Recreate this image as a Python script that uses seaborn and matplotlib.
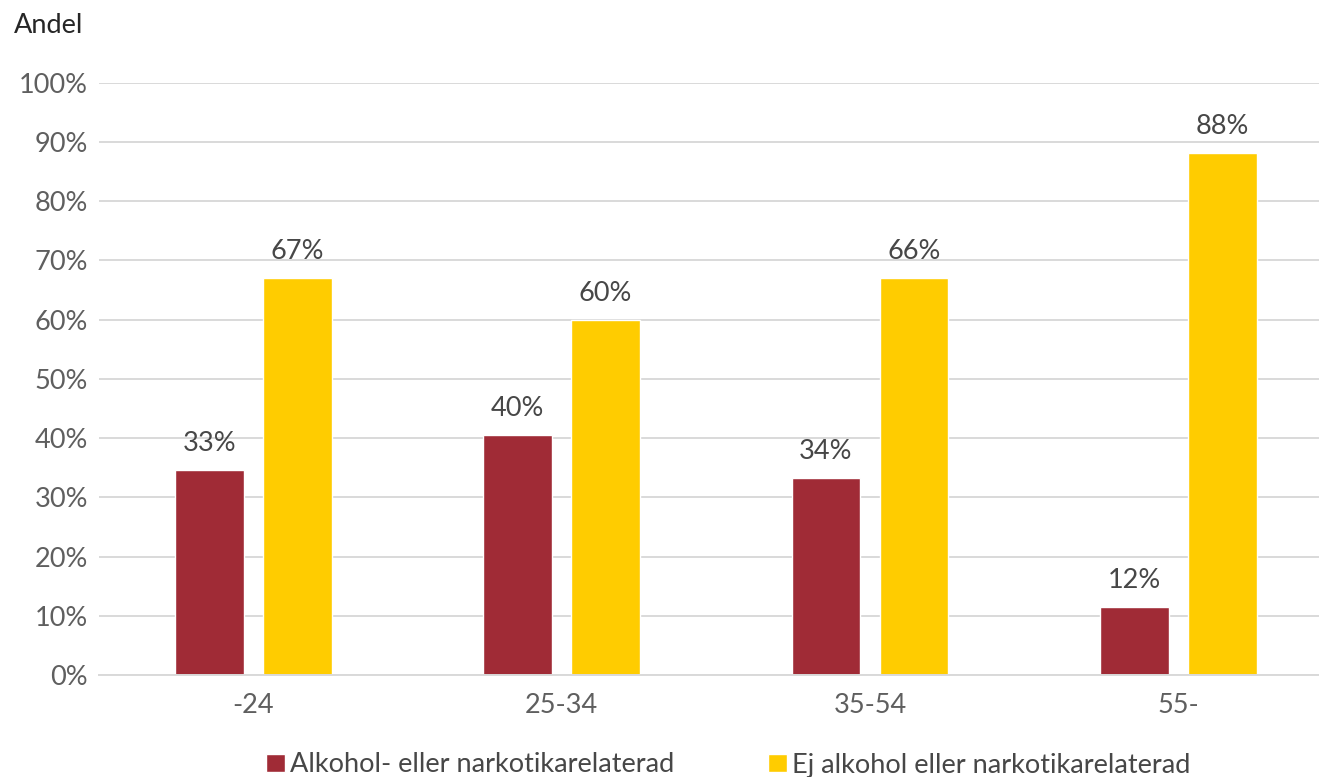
import matplotlib
matplotlib.use("Agg")
import matplotlib.pyplot as plt
import seaborn as sns
import pandas as pd

# ---- data ----
categories = ["-24", "25-34", "35-54", "55-"]
series_names = ["Alkohol- eller narkotikarelaterad", "Ej alkohol eller narkotikarelaterad"]
alkohol_values = [34.6, 40.5, 33.3, 11.5]
ej_alkohol_values = [67.0, 60.0, 67.1, 88.1]
alkohol_labels = ["33%", "40%", "34%", "12%"]
ej_alkohol_labels = ["67%", "60%", "66%", "88%"]
y_ticks = [0, 10, 20, 30, 40, 50, 60, 70, 80, 90, 100]
y_tick_labels = [f"{t}%" for t in y_ticks]
y_title = "Andel"

colors = ["#A02B36", "#FFCC00"]

df = pd.DataFrame({
    "Ålder": categories * 2,
    "Andel": alkohol_values + ej_alkohol_values,
    "Grupp": [series_names[0]] * 4 + [series_names[1]] * 4,
})

sns.set_theme(style="white")
plt.rcParams["font.family"] = ["Lato", "DejaVu Sans"]
FS = 19.5

W, H = 1319, 777
fig = plt.figure(figsize=(W / 100, H / 100), dpi=100)
ax = fig.add_axes([99 / W, (H - 675) / H, 1233.6 / W, (675 - 82.7) / H])

sns.barplot(data=df, x="Ålder", y="Andel", hue="Grupp", order=categories,
            hue_order=series_names, palette=colors, width=0.5707, gap=0.216,
            saturation=1, ax=ax, errorbar=None)

ax.set_xlim(-0.5, 3.5)
ax.set_ylim(0, 100)
ax.set_yticks(y_ticks)
ax.set_yticklabels(y_tick_labels)
ax.set_xlabel("")
ax.set_ylabel("")
ax.grid(axis="y", color="#D9D9D9", linewidth=1.4)
ax.set_axisbelow(True)
for s in ["top", "right", "left"]:
    ax.spines[s].set_visible(False)
ax.spines["bottom"].set_color("#D9D9D9")
ax.spines["bottom"].set_linewidth(1.4)
ax.tick_params(axis="y", length=0, pad=8, labelsize=FS, labelcolor="#5F5F5F")
ax.tick_params(axis="x", length=0, pad=13, labelsize=FS, labelcolor="#5F5F5F")

for cont, labs in zip(ax.containers, [alkohol_labels, ej_alkohol_labels]):
    ax.bar_label(cont, labels=labs, padding=10, fontsize=FS, color="#474747")

fig.text(14 / W, (H - 33) / H, y_title, fontsize=FS, color="#262626",
         ha="left", va="baseline")

sns.move_legend(ax, loc="center left", bbox_to_anchor=(266 / W, 12 / H),
                bbox_transform=fig.transFigure, ncol=2, frameon=False, title=None,
                fontsize=FS, handlelength=0.7, handleheight=0.62,
                handletextpad=0.2, columnspacing=3.45, borderpad=0,
                borderaxespad=0)
for t in ax.get_legend().get_texts():
    t.set_color("#474747")

fig.savefig("out.png", dpi=100)
